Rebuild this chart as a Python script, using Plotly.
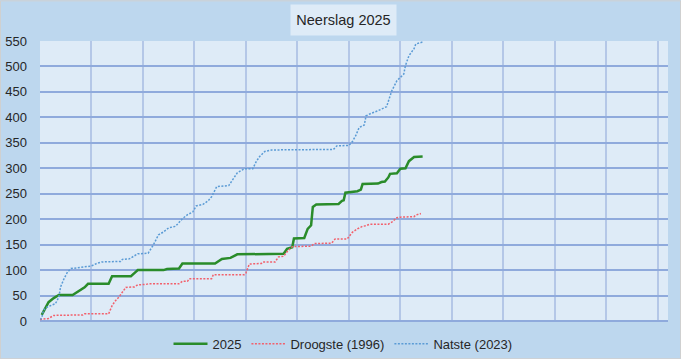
import plotly.graph_objects as go

# 2025
days_2025 = [1, 2, 3, 5, 8, 11, 19, 21, 24, 26, 28, 40, 42, 53, 55, 57, 72, 74, 81, 83, 102, 106, 111, 115,
             142, 144, 147, 148, 154, 156, 158, 159, 161, 174, 176, 177, 178, 185, 187, 188, 197, 199, 201,
             203, 204, 208, 210, 213, 215, 218, 223]
vals_2025 = [12, 18, 24, 37, 45, 51, 51, 55, 61, 66, 73, 73, 88, 88, 94, 100, 100, 102, 103, 113, 113, 122, 124, 131,
             132, 142, 145, 162, 163, 181, 188, 224, 229, 230, 236, 237, 252, 255, 258, 269, 270, 273, 274,
             282, 289, 290, 299, 300, 314, 322, 323]

# Droogste (1996)
days_1996 = [0, 5, 8, 25, 26, 40, 42, 44, 46, 48, 50, 55, 57, 62, 63, 81, 83, 86, 87, 100, 101, 119, 120, 122,
             129, 130, 137, 139, 142, 144, 147, 158, 160, 170, 172, 179, 180, 182, 185, 188, 190, 192, 203,
             205, 208, 210, 218, 219, 222]
vals_1996 = [3, 5, 11, 12, 14, 14, 30, 40, 47, 57, 66, 67, 71, 72, 73, 73, 78, 78, 83, 83, 91, 91, 94, 112,
             113, 116, 116, 126, 127, 136, 146, 147, 152, 153, 161, 161, 166, 174, 181, 186, 187, 190, 190,
             194, 203, 204, 205, 208, 211]

# Natste (2023)
days_2023 = [0, 1, 2, 4, 6, 9, 11, 12, 14, 16, 18, 24, 30, 33, 36, 47, 48, 52, 55, 57, 63, 66, 69, 72, 75, 79,
             83, 86, 89, 91, 95, 98, 100, 103, 110, 113, 115, 118, 119, 124, 126, 128, 131, 135, 171, 173,
             180, 182, 184, 186, 189, 190, 193, 197, 202, 205, 208, 212, 213, 215, 218, 219, 223]
vals_2023 = [3, 6, 21, 27, 30, 34, 47, 67, 83, 96, 103, 106, 108, 113, 116, 117, 121, 122, 129, 132, 133, 149,
             169, 175, 183, 186, 201, 209, 214, 226, 229, 236, 244, 264, 266, 280, 291, 297, 299, 299, 313,
             323, 333, 336, 337, 344, 345, 352, 364, 380, 385, 403, 408, 413, 421, 452, 472, 485, 502, 521,
             535, 544, 548]

series_names = ["2025", "Droogste (1996)", "Natste (2023)"]
y_ticks = list(range(0, 551, 50))

FONT = "Liberation Sans"

fig = go.Figure()
fig.add_trace(go.Scatter(x=days_2025, y=vals_2025, mode="lines", name=series_names[0],
                         line=dict(color="#2A8C2A", width=2.5)))
fig.add_trace(go.Scatter(x=days_1996, y=vals_1996, mode="lines", name=series_names[1],
                         line=dict(color="#F2606C", width=1.5, dash="2px,1.5px")))
fig.add_trace(go.Scatter(x=days_2023, y=vals_2023, mode="lines", name=series_names[2],
                         line=dict(color="#5B9BD5", width=1.5, dash="2px,1.5px")))

fig.update_layout(
    width=681, height=359,
    margin=dict(l=40, r=13, t=41, b=38, autoexpand=False),
    paper_bgcolor="#BDD7EE",
    plot_bgcolor="#DEEBF7",
    font=dict(family=FONT, size=13, color="#262626"),
    showlegend=True,
    legend=dict(orientation="h", x=0.4825, xanchor="center", y=-0.028, yanchor="top",
                bgcolor="rgba(0,0,0,0)", font=dict(size=13), itemwidth=34,
                traceorder="normal"),
    annotations=[dict(text="Neerslag 2025", xref="paper", yref="paper", x=0.4825, y=1.0,
                      xanchor="center", yanchor="bottom", yshift=5, showarrow=False,
                      font=dict(size=14.5, color="#262626"), bgcolor="#DEEBF7",
                      width=103, height=28)],
    shapes=[dict(type="rect", xref="paper", yref="paper", x0=-0.0629, x1=1.0199, y0=-0.1345, y1=1.1434,
                 line=dict(color="#D0D0D0", width=1), fillcolor="rgba(0,0,0,0)", layer="below")],
)
fig.update_xaxes(range=[0, 366], tick0=0, dtick=30, showticklabels=False, ticks="",
                 showgrid=True, gridcolor="#B4C7E7", gridwidth=1.5, zeroline=False,
                 showline=False, automargin=False)
fig.update_yaxes(range=[0, 550], tickvals=y_ticks, ticks="", ticklabelstandoff=12,
                 showgrid=True, gridcolor="#8FAADC", gridwidth=1.5, zeroline=True,
                 zerolinecolor="#8FAADC", zerolinewidth=2, showline=False, automargin=False,
                 tickfont=dict(size=13, color="#262626"))

fig.write_html("out.html", config={"displayModeBar": False},
               post_script="document.body.style.margin='0';document.body.style.overflow='hidden';")
